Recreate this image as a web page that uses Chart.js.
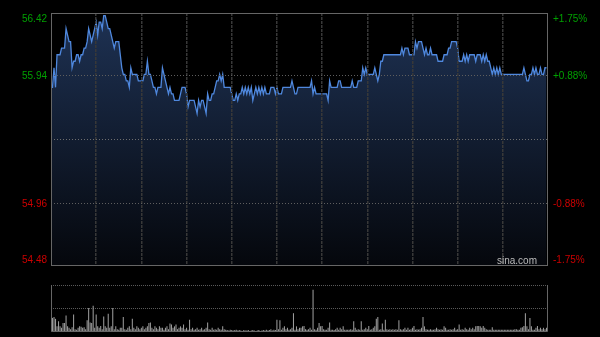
<!DOCTYPE html>
<html>
<head>
<meta charset="utf-8">
<script src="https://cdn.jsdelivr.net/npm/chart.js@4.4.0/dist/chart.umd.min.js"></script>
<style>
  body { margin: 0; background: #000; }
  #wrap { position: relative; width: 600px; height: 337px; }
  canvas { position: absolute; left: 0; }
</style>
</head>
<body>
<div id="wrap">
  <canvas id="priceChart" width="600" height="275" style="top:0"></canvas>
  <canvas id="volumeChart" width="600" height="57" style="top:280px"></canvas>
</div>
<script>
// HK session: 9:30-12:00 and 13:00-16:00, one point per minute
const minutes = 330;
const prevClose = 55.45;
const priceTicks = [54.48, 54.96, 55.45, 55.94, 56.42];
const pctLabels = ['-1.75%', '-0.88%', '', '+0.88%', '+1.75%'];

const prices = [
  55.85,55.85,56.00,55.85,56.10,56.10,56.10,56.15,56.15,56.15,
  56.30,56.25,56.20,56.20,56.00,56.05,56.05,56.10,56.10,56.05,
  56.10,56.10,56.15,56.15,56.20,56.30,56.25,56.20,56.25,56.30,
  56.35,56.25,56.35,56.35,56.30,56.40,56.40,56.35,56.30,56.30,
  56.25,56.20,56.15,56.20,56.20,56.20,56.10,56.00,55.95,55.95,
  55.90,55.90,55.85,56.00,55.95,55.95,55.95,55.95,55.90,55.90,
  55.90,55.90,55.95,55.95,56.05,55.95,55.95,55.90,55.85,55.85,
  55.80,55.85,55.85,55.85,56.00,55.95,55.90,55.85,55.80,55.85,
  55.80,55.80,55.75,55.75,55.75,55.75,55.80,55.85,55.85,55.85,
  55.80,55.70,55.75,55.75,55.75,55.75,55.70,55.65,55.75,55.70,
  55.75,55.75,55.70,55.65,55.80,55.75,55.75,55.80,55.80,55.85,
  55.90,55.90,55.95,55.90,55.95,55.85,55.85,55.85,55.85,55.85,
  55.80,55.75,55.75,55.80,55.75,55.80,55.80,55.85,55.80,55.85,
  55.80,55.85,55.80,55.85,55.75,55.80,55.85,55.80,55.85,55.80,
  55.85,55.80,55.85,55.80,55.80,55.80,55.85,55.85,55.85,55.80,
  55.85,55.80,55.80,55.80,55.85,55.85,55.85,55.85,55.85,55.85,
  55.90,55.85,55.80,55.80,55.85,55.85,55.85,55.85,55.85,55.85,
  55.85,55.85,55.85,55.90,55.80,55.85,55.80,55.80,55.80,55.80,
  55.80,55.80,55.80,55.80,55.75,55.90,55.85,55.85,55.85,55.85,
  55.85,55.90,55.90,55.85,55.85,55.85,55.85,55.85,55.85,55.85,
  55.90,55.85,55.85,55.85,55.90,55.90,55.90,56.00,55.95,56.00,
  55.95,55.95,55.95,55.95,55.95,56.00,55.95,55.90,55.95,56.05,
  56.05,56.10,56.10,56.10,56.10,56.10,56.10,56.10,56.10,56.10,
  56.10,56.10,56.10,56.15,56.10,56.15,56.15,56.15,56.10,56.10,
  56.10,56.10,56.20,56.15,56.20,56.20,56.20,56.15,56.10,56.15,
  56.10,56.10,56.15,56.10,56.10,56.10,56.10,56.05,56.05,56.05,
  56.05,56.10,56.10,56.10,56.15,56.15,56.20,56.20,56.20,56.20,
  56.15,56.05,56.05,56.05,56.10,56.05,56.10,56.05,56.10,56.10,
  56.10,56.10,56.05,56.10,56.10,56.10,56.05,56.10,56.05,56.10,
  56.05,56.05,56.00,55.95,56.00,55.95,56.00,55.95,56.00,55.95,
  55.95,55.95,55.95,55.95,55.95,55.95,55.95,55.95,55.95,55.95,
  55.95,55.95,55.95,55.95,56.00,55.95,55.90,55.90,55.95,55.95,
  56.00,55.95,56.00,55.95,55.95,56.00,55.95,55.95,56.00,56.00
];

// volume, relative units (100 = top of the volume box)
const volumes = [
  60,30,32,28,12,23,12,9,19,19,
  35,12,9,6,10,37,6,5,9,12,
  11,9,10,6,25,51,20,19,56,9,
  37,12,9,13,6,33,12,9,39,9,
  12,51,6,12,6,5,9,9,32,6,
  5,9,12,6,28,9,6,12,9,6,
  9,12,6,9,12,19,20,9,6,12,
  9,6,12,9,9,5,9,12,6,18,
  16,9,12,16,6,9,12,9,16,6,
  9,5,26,6,9,5,6,9,5,6,
  9,5,6,9,20,6,5,9,5,6,
  5,9,6,5,12,6,5,4,3,5,
  4,3,4,5,3,4,3,2,4,3,
  3,4,2,3,4,3,2,3,4,2,
  3,4,3,5,3,4,6,3,5,4,
  26,6,25,5,9,12,6,9,5,6,
  9,40,5,12,6,9,9,12,13,6,
  5,6,9,5,90,6,5,9,19,12,
  13,6,5,5,9,20,5,5,4,6,
  9,5,9,6,12,5,5,5,5,6,
  5,23,9,5,6,5,23,5,6,9,
  6,13,5,6,9,12,28,32,5,6,
  18,5,26,6,5,6,5,6,5,6,
  5,25,6,5,6,9,5,9,5,6,
  9,13,5,6,5,6,9,32,12,6,
  5,5,6,5,5,6,9,6,5,6,
  5,12,9,5,5,6,5,6,9,5,
  6,16,5,6,5,9,6,5,9,6,
  9,6,12,13,13,12,9,13,9,6,
  5,5,5,10,5,5,5,5,5,5,
  5,5,5,5,5,5,5,5,6,6,
  5,5,9,10,13,40,12,6,30,12,
  5,5,9,13,6,9,6,9,6,9
];

const labelFont = '10px "Liberation Sans", Arial, sans-serif';

// price / percent labels, frame and watermark
const priceDecor = {
    id: 'priceDecor',
    afterDraw(chart) {
        const { ctx, chartArea, scales: { y } } = chart;
        ctx.save();
        ctx.strokeStyle = '#666';
        ctx.lineWidth = 1;
        ctx.strokeRect(chartArea.left + 0.5, chartArea.top + 0.5, chartArea.width - 1, chartArea.height - 1);

        ctx.font = labelFont;
        ctx.textBaseline = 'middle';
        priceTicks.forEach((v, i) => {
            if (v === prevClose) return;
            let py = y.getPixelForValue(v) + 1;
            if (i === priceTicks.length - 1) py += 5;
            if (i === 0) py -= 7;
            ctx.fillStyle = v > prevClose ? '#00a000' : '#cc0000';
            ctx.textAlign = 'right';
            ctx.fillText(v.toFixed(2), chartArea.left - 4, py);
            ctx.textAlign = 'left';
            ctx.fillText(pctLabels[i], chartArea.right + 5, py);
        });

        ctx.fillStyle = '#bbbbbb';
        ctx.textAlign = 'right';
        ctx.textBaseline = 'alphabetic';
        ctx.fillText('sina.com', chartArea.right - 11, chartArea.bottom - 2);
        ctx.restore();
    }
};

const volumeFrame = {
    id: 'volumeFrame',
    afterDraw(chart) {
        const { ctx, chartArea } = chart;
        ctx.save();
        ctx.strokeStyle = '#666';
        ctx.lineWidth = 1;
        ctx.beginPath();
        ctx.moveTo(chartArea.left + 0.5, chartArea.top);
        ctx.lineTo(chartArea.left + 0.5, chartArea.bottom - 0.5);
        ctx.lineTo(chartArea.right - 0.5, chartArea.bottom - 0.5);
        ctx.lineTo(chartArea.right - 0.5, chartArea.top);
        ctx.stroke();
        ctx.restore();
    }
};

const priceCtx = document.getElementById('priceChart').getContext('2d');
new Chart(priceCtx, {
    type: 'line',
    data: {
        datasets: [{
            data: prices.map((p, i) => ({ x: i, y: p })),
            borderColor: '#4f88de',
            borderWidth: 1.3,
            pointRadius: 0,
            tension: 0,
            fill: 'start',
            backgroundColor: (c) => {
                const area = c.chart.chartArea;
                if (!area) return 'transparent';
                const g = c.chart.ctx.createLinearGradient(0, area.top, 0, area.bottom);
                g.addColorStop(0, 'rgb(30,50,84)');
                g.addColorStop(1, 'rgb(5,7,12)');
                return g;
            },
        }],
    },
    options: {
        responsive: false,
        animation: false,
        layout: { padding: { left: 51, right: 52, top: 13, bottom: 9 } },
        plugins: { legend: { display: false }, tooltip: { enabled: false } },
        scales: {
            x: {
                type: 'linear',
                min: 0,
                max: minutes,
                ticks: { display: false, stepSize: 30 },
                grid: {
                    drawTicks: false,
                    z: 1,
                    lineWidth: 1.5,
                    color: (c) => (c.tick.value === 0 || c.tick.value === minutes) ? 'transparent' : '#383838',
                },
                border: { display: false, dash: [3, 1] },
            },
            y: {
                min: priceTicks[0],
                max: priceTicks[priceTicks.length - 1],
                afterBuildTicks: (scale) => {
                    scale.ticks = priceTicks.map(v => ({ value: v }));
                },
                ticks: { display: false },
                grid: {
                    drawTicks: false,
                    z: 1,
                    color: (c) => {
                        const v = c.tick.value;
                        if (v === priceTicks[0] || v === priceTicks[priceTicks.length - 1]) return 'transparent';
                        return v === prevClose ? '#6e6e6e' : '#5e5e5e';
                    },
                },
                border: { display: false, dash: [1, 2] },
            },
        },
    },
    plugins: [priceDecor],
});

const volumeCtx = document.getElementById('volumeChart').getContext('2d');
new Chart(volumeCtx, {
    type: 'bar',
    data: {
        datasets: [{
            data: volumes.map((v, i) => ({ x: i, y: v })),
            backgroundColor: '#9a9a9a',
            barPercentage: 0.7,
            categoryPercentage: 1,
        }],
    },
    options: {
        responsive: false,
        animation: false,
        layout: { padding: { left: 51, right: 52, top: 5, bottom: 5 } },
        plugins: { legend: { display: false }, tooltip: { enabled: false } },
        scales: {
            x: {
                type: 'linear',
                min: 0,
                max: minutes,
                offset: false,
                ticks: { display: false },
                grid: { display: false, drawTicks: false },
                border: { display: false },
            },
            y: {
                min: 0,
                max: 100,
                ticks: { display: false, stepSize: 50 },
                grid: {
                    drawTicks: false,
                    color: (c) => c.tick.value === 0 ? 'transparent' : '#5a5a5a',
                },
                border: { display: false, dash: [1, 1] },
            },
        },
    },
    plugins: [volumeFrame],
});
</script>
</body>
</html>
